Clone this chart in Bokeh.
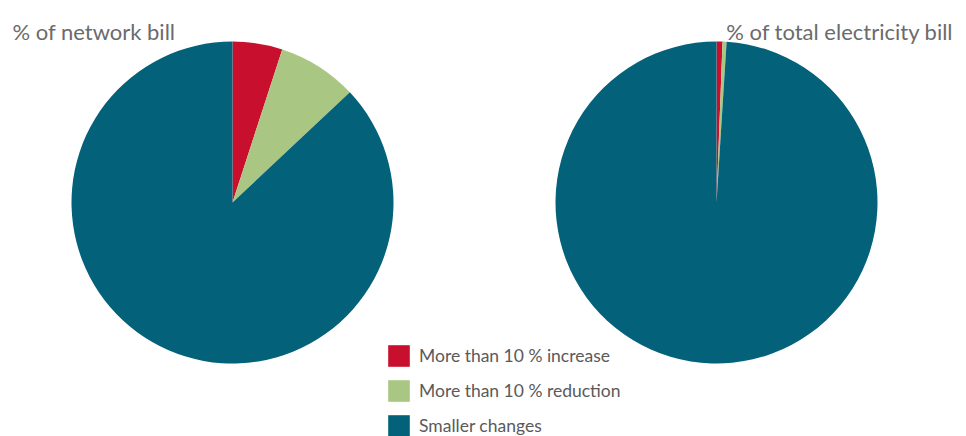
from math import pi
from bokeh.plotting import figure
from bokeh.models import ColumnDataSource, Range1d, Legend, LegendItem
from bokeh.core.properties import value
from bokeh.embed import file_html
from bokeh.resources import INLINE

categories = ["More than 10 % increase", "More than 10 % reduction", "Smaller changes"]
network_bill = [5.0, 8.0, 87.0]
total_bill = [0.6, 0.4, 99.0]
titles = ["% of network bill", "% of total electricity bill"]
colors = ["#C8102E", "#A9C683", "#03627A"]

W, H = 966, 436
p = figure(width=W, height=H, output_backend="svg", toolbar_location=None,
           x_axis_type=None, y_axis_type=None, min_border=0,
           x_range=Range1d(0, W), y_range=Range1d(0, H))
p.outline_line_color = None
p.grid.visible = False
p.background_fill_color = "white"


def pie_source(vals, cx, cy):
    tot = sum(vals)
    starts, ends = [], []
    c = 0.0
    for v in vals:
        c0 = c / tot
        c += v
        c1 = c / tot
        starts.append(pi / 2 - 2 * pi * c1)
        ends.append(pi / 2 - 2 * pi * c0)
    return ColumnDataSource(dict(x=[cx] * len(vals), y=[cy] * len(vals),
                                 start=starts, end=ends, color=colors, label=categories))


R = 161
src1 = pie_source(network_bill, 232, H - 202)
src2 = pie_source(total_bill, 716, H - 202)
r1 = p.wedge(x="x", y="y", radius=R, start_angle="start", end_angle="end",
             fill_color="color", line_color=None, source=src1)
r2 = p.wedge(x="x", y="y", radius=R, start_angle="start", end_angle="end",
             fill_color="color", line_color=None, source=src2)

p.text(x=[12], y=[H - 31], text=[titles[0]], text_font_size="22px",
       text_color="#6b6b6b", text_font=value("Lato"), text_baseline="alphabetic")
p.text(x=[953], y=[H - 31], text=[titles[1]], text_font_size="22px",
       text_color="#6b6b6b", text_font=value("Lato"), text_baseline="alphabetic",
       text_align="right")

items = [LegendItem(label=categories[i], renderers=[r1], index=i) for i in range(3)]
legend = Legend(items=items, location=(385, -3), orientation="vertical",
                glyph_width=27, glyph_height=27, label_height=27, spacing=8,
                label_standoff=7, padding=0, margin=0,
                border_line_color=None, background_fill_alpha=0,
                label_text_font="Lato", label_text_font_size="17.5px",
                label_text_color="#5a5a5a")
p.add_layout(legend, "center")

open("out.html", "w").write(file_html(p, INLINE))
